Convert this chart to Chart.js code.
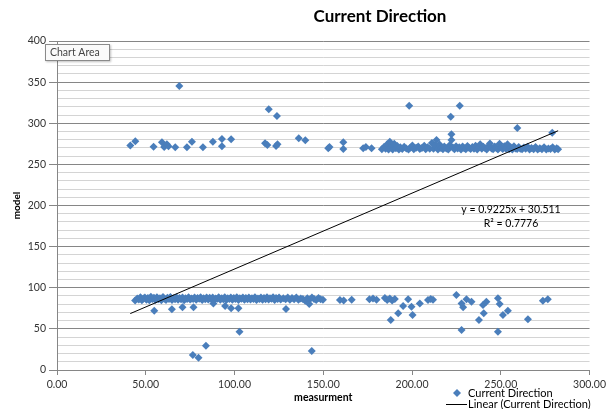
<!DOCTYPE html>
<html>
<head>
<meta charset="utf-8">
<script src="https://cdn.jsdelivr.net/npm/chart.js@4"></script>
<style>
html,body{margin:0;padding:0;background:#fff;}
#wrap{position:relative;width:609px;height:409px;}
</style>
</head>
<body>
<div id="wrap"><canvas id="c" width="609" height="409"></canvas></div>
<script>
// ---------- texts ----------
const chartTitle = 'Current Direction';
const xAxisTitle = 'measurment';
const yAxisTitle = 'model';
const seriesName = 'Current Direction';
const trendName = 'Linear (Current Direction)';
const trendSlope = 0.9225;
const trendIntercept = 30.511;
const trendR2 = 0.7776;

// ---------- ticks ----------
const xTickValues = [0, 50, 100, 150, 200, 250, 300];
const yTickLabels = ['0', '50', '100', '150', '200', '250', '300', '350', '400'];

// ---------- data: [measurement, model] ----------
const upperSparse = [
  [41.3,273],[44.1,278],[54.4,271.5],[59.1,277],[60.4,271],[61.9,274.5],[62.8,272],[66.6,270.7],
  [73.2,270.7],[76.0,277.6],[82.2,270.7],[87.8,277.6],[92.9,280.8],[92.9,272],[98.1,280.5],
  [117.2,275.6],[118.5,273.5],[123.4,272.3],[124.2,274.5],[136.2,281.7],[139.9,279.3],
  [152.8,269.5],[153.5,271],[161.3,276.8],[161.3,268.7],[172.5,269.5],[174.0,271],[177.2,269.5]
];
const upperOutliers = [
  [68.9,345.3],[119.3,317],[123.9,308.8],[198.4,321.4],[221.8,308],[226.9,321.4],
  [259.3,294.2],[279.0,288.5],[222.2,286.5]
];
const upperBand = [
  [183.0,268.5],[184.2,271.2],[185.1,269.0],[186.0,274.5],[186.8,268.2],[187.5,277.6],[188.3,270.8],
  [189.1,268.0],[190.0,275.2],[190.9,269.6],[191.7,272.4],[192.6,268.1],[193.4,270.9],[194.5,268.8],
  [195.6,271.5],[196.8,269.2],[198.0,268.0],[199.1,270.6],[200.2,272.8],[201.0,268.4],[202.3,270.2],
  [203.5,271.8],[204.4,268.6],[205.6,269.9],[206.9,272.5],[207.7,268.3],[208.8,270.7],[210.0,269.1],
  [211.2,276.0],[212.1,268.9],[213.0,272.9],[213.8,279.6],[214.6,268.2],[215.5,274.3],[216.3,270.0],
  [217.4,268.5],[218.2,271.6],[219.3,269.3],[220.4,268.0],[221.3,273.7],[222.2,279.6],[223.0,270.5],
  [223.9,268.4],[224.8,272.0],[225.7,269.2],[226.6,270.9],[227.6,268.1],[228.5,271.8],[229.4,269.5],
  [230.3,268.3],[231.2,272.2],[232.1,270.1],[233.0,268.6],[234.0,271.0],[234.9,269.0],[235.8,272.6],
  [236.7,268.2],[237.6,270.4],[238.4,274.5],[239.3,268.9],[240.2,271.3],[241.2,269.6],[242.1,268.0],
  [243.0,272.1],[243.9,275.3],[244.8,269.4],[245.7,268.5],[246.6,271.7],[247.5,269.8],[248.4,268.2],
  [249.3,275.0],[250.2,270.6],[251.1,268.7],[252.0,271.9],[252.9,269.1],[253.8,274.6],[254.7,268.4],
  [255.6,270.8],[256.5,268.1],[257.4,272.0],[258.3,269.4],[259.2,268.6],[260.1,271.1],[261.0,269.0],
  [262.0,268.3],[263.0,270.5],[264.0,268.9],[265.1,271.4],[266.2,268.2],[267.3,269.8],[268.5,268.5],
  [269.6,271.0],[270.8,268.0],[272.0,269.6],[273.2,268.4],[274.4,270.7],[275.6,268.1],[276.8,269.2],
  [278.0,268.6],[279.2,270.9],[280.4,268.2],[281.5,269.7],[282.3,268.5]
];
const lowerBand = [
  [44.0,84.5],[45.2,87.0],[46.1,85.8],[47.0,88.6],[47.8,84.9],[48.7,86.9],[49.5,88.2],[50.4,85.3],
  [51.2,87.6],[52.0,84.7],[52.9,89.0],[53.7,86.2],[54.6,87.9],[55.4,85.1],[56.3,88.4],[57.1,86.0],
  [58.0,87.3],[58.8,84.8],[59.7,88.9],[60.5,86.5],[61.4,85.2],[62.2,87.8],[63.1,86.3],[63.9,88.7],
  [64.8,85.0],[65.6,87.1],[66.5,86.0],[67.3,88.3],[68.2,85.5],[69.0,87.4],[69.9,86.1],[70.7,88.0],
  [71.6,84.9],[72.4,87.2],[73.3,86.4],[74.1,88.5],[75.0,85.7],[75.8,87.0],[76.7,86.2],[77.5,88.1],
  [78.4,85.3],[79.2,87.5],[80.1,86.6],[80.9,88.4],[81.8,85.0],[82.6,87.2],[83.5,86.1],[84.3,88.0],
  [85.2,85.6],[86.0,87.7],[86.9,86.3],[87.7,88.2],[88.6,85.1],[89.4,87.0],[90.3,86.5],[91.1,88.3],
  [92.0,85.4],[92.8,87.3],[93.7,86.0],[94.5,88.6],[95.4,85.2],[96.2,87.1],[97.1,86.4],[97.9,88.0],
  [98.8,85.5],[99.6,87.4],[100.5,86.2],[101.3,88.4],[102.2,85.0],[103.0,87.2],[103.9,86.6],[104.7,88.1],
  [105.6,85.3],[106.4,87.6],[107.3,86.1],[108.1,88.0],[109.0,85.6],[109.8,87.3],[110.7,86.4],[111.5,88.5],
  [112.4,85.2],[113.2,87.0],[114.1,86.3],[114.9,88.2],[115.8,85.4],[116.6,87.5],[117.5,86.0],[118.3,88.3],
  [119.2,85.7],[120.0,87.1],[120.9,86.5],[121.7,88.4],[122.6,85.1],[123.4,87.4],[124.3,86.2],[125.1,88.0],
  [126.0,85.6],[127.5,87.2],[128.8,86.1],[130.0,88.1],[131.2,85.3],[132.4,87.6],[133.6,86.0],[134.8,88.2],
  [136.0,85.5],[137.3,87.0],[138.5,86.4],[139.8,84.2],[141.0,87.3],[142.3,85.8],[143.6,88.0],[144.8,86.2],
  [146.0,85.0],[147.3,87.5],[148.5,86.0],[149.8,85.4]
];
const lowerScatter = [
  [54.8,72.1],[64.7,73.8],[70.7,76.2],[76.9,76.2],[88.1,81.0],[94.7,77.8],[98.1,75.0],[102.2,75.0],
  [102.8,46.6],[76.5,18.2],[79.7,15.0],[83.9,29.5],[129.0,74.2],[143.5,23.1],[142.1,80.2],
  [159.4,85.0],[161.5,84.5],[166.0,85.3],[176.0,86.0],[178.0,86.8],[180.0,85.5],[184.7,87.5],
  [186.0,85.0],[187.5,86.8],[188.8,84.6],[190.3,86.2],[188.0,60.8],[192.2,69.0],[195.0,77.8],
  [197.8,86.0],[199.7,77.0],[200.3,66.9],[204.4,81.0],[209.0,85.2],[210.5,86.4],[211.8,85.5],
  [225.0,91.2],[227.9,81.0],[228.8,76.2],[230.7,86.0],[233.5,83.0],[227.9,48.6],[237.7,60.8],
  [240.4,69.0],[240.0,79.0],[241.9,83.0],[248.4,87.2],[249.4,80.2],[251.2,66.9],[254.0,72.1],
  [248.4,46.6],[265.3,61.6],[273.7,84.3],[276.5,86.0]
];

const allPoints = [].concat(upperSparse, upperOutliers, upperBand, lowerBand, lowerScatter)
  .map(p => ({x: p[0], y: p[1]}));
const xs = allPoints.map(p => p.x);
const xMin = Math.min(...xs), xMax = Math.max(...xs);
const trendPoints = [xMin, xMax].map(x => ({x: x, y: trendSlope * x + trendIntercept}));

const MARKER = '#4A7EBB';
const AXIS = '#868686';
const MINOR = '#d4d4d4';
const FONT = 'Lato, "Open Sans", sans-serif';

const overlay = {
  id: 'overlay',
  afterDraw(chart) {
    const ctx = chart.ctx;
    ctx.save();
    // title
    ctx.fillStyle = '#000';
    ctx.font = 'bold 17px ' + FONT;
    ctx.textAlign = 'center';
    ctx.textBaseline = 'middle';
    ctx.fillText(chartTitle, 380, 17);

    // trendline equation
    ctx.font = '10.5px ' + FONT;
    ctx.fillStyle = '#000';
    ctx.fillText('y = ' + trendSlope + 'x + ' + trendIntercept, 511, 210);
    ctx.fillText('R\u00B2 = ' + trendR2, 511, 224);

    // legend
    ctx.textAlign = 'left';
    ctx.font = '11px ' + FONT;
    ctx.fillStyle = MARKER;
    ctx.beginPath();
    ctx.moveTo(457, 389); ctx.lineTo(461, 393); ctx.lineTo(457, 397); ctx.lineTo(453, 393);
    ctx.closePath(); ctx.fill();
    ctx.fillStyle = '#000';
    ctx.fillText(seriesName, 468, 393);
    ctx.strokeStyle = '#000';
    ctx.lineWidth = 1;
    ctx.beginPath(); ctx.moveTo(446, 404.5); ctx.lineTo(467, 404.5); ctx.stroke();
    ctx.fillText(trendName, 468, 404);

    // "Chart Area" hover label
    ctx.shadowColor = 'rgba(0,0,0,0.25)';
    ctx.shadowOffsetX = 1; ctx.shadowOffsetY = 1; ctx.shadowBlur = 2;
    ctx.fillStyle = '#fafafa';
    ctx.fillRect(45, 44, 65, 17);
    ctx.shadowColor = 'transparent';
    ctx.strokeStyle = '#8a8a8a';
    ctx.strokeRect(45.5, 44.5, 64, 16);
    ctx.fillStyle = '#444';
    ctx.font = '10.5px ' + FONT;
    ctx.fillText('Chart Area', 50, 53);
    ctx.restore();
  }
};

new Chart(document.getElementById('c'), {
  type: 'scatter',
  data: {
    datasets: [
      {
        type: 'line',
        label: trendName,
        data: trendPoints,
        borderColor: '#000',
        borderWidth: 1,
        pointRadius: 0,
        fill: false,
        order: 0
      },
      {
        label: seriesName,
        data: allPoints,
        pointStyle: 'rectRot',
        pointRadius: 4,
        pointBackgroundColor: MARKER,
        pointBorderColor: MARKER,
        pointBorderWidth: 0,
        order: 1
      }
    ]
  },
  options: {
    responsive: false,
    animation: false,
    devicePixelRatio: 1,
    layout: { padding: { top: 41, right: 18, left: 0, bottom: 0 } },
    plugins: {
      legend: { display: false },
      tooltip: { enabled: false },
      title: { display: false }
    },
    scales: {
      x: {
        type: 'linear',
        min: 0, max: 300,
        afterBuildTicks(s) { s.ticks = xTickValues.map(v => ({value: v})); },
        afterFit(s) { s.height = 39; },
        ticks: {
          callback: v => Number(v).toFixed(2),
          color: '#333',
          font: { family: FONT, size: 10.5 },
          padding: 3,
          maxRotation: 0,
          autoSkip: false
        },
        grid: { drawOnChartArea: false, drawTicks: true, tickLength: 5, color: AXIS },
        border: { color: AXIS, width: 1 },
        title: {
          display: true, text: xAxisTitle, color: '#000',
          font: { family: FONT, size: 10.5, weight: 'bold' },
          padding: { top: 0, bottom: 5 }
        }
      },
      y: {
        type: 'linear',
        min: 0, max: 400,
        afterFit(s) { s.width = 57; },
        ticks: {
          stepSize: 10,
          autoSkip: false,
          callback: v => (v % 50 === 0 ? yTickLabels[v / 50] : ''),
          color: '#333',
          font: { family: FONT, size: 10.5 },
          padding: 3
        },
        grid: {
          drawTicks: true,
          tickLength: 8,
          color: ctx => (ctx.tick && ctx.tick.value % 50 === 0 ? AXIS : MINOR),
          tickColor: ctx => (ctx.tick && ctx.tick.value % 50 === 0 ? AXIS : 'rgba(0,0,0,0)'),
          lineWidth: 1
        },
        border: { color: AXIS, width: 1 },
        title: {
          display: true, text: yAxisTitle, color: '#000',
          font: { family: FONT, size: 10, weight: 'bold' },
          padding: { top: 11, bottom: 0 }
        }
      }
    }
  },
  plugins: [overlay]
});
</script>
</body>
</html>
